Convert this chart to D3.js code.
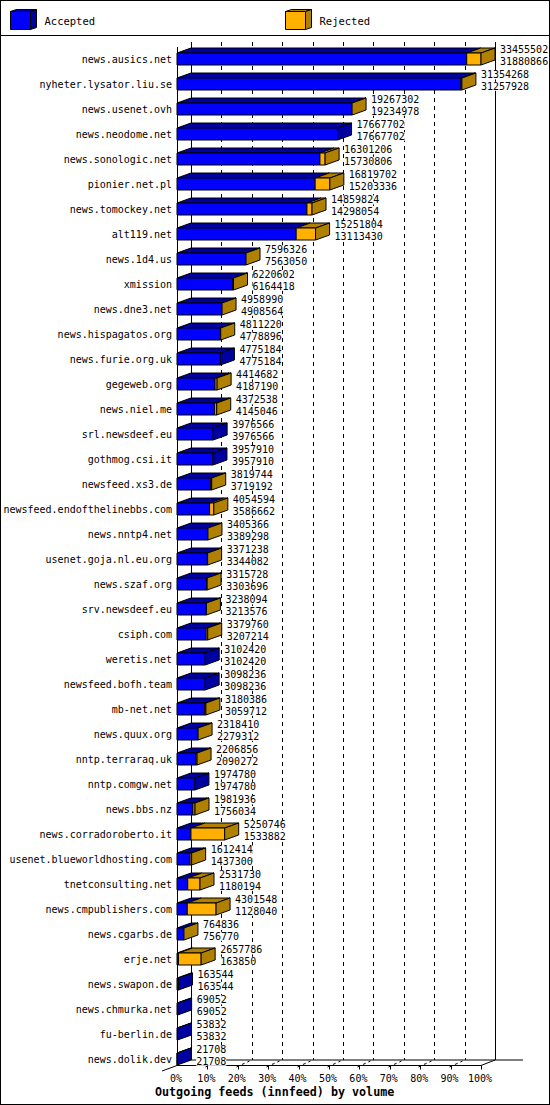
<!DOCTYPE html>
<html>
<head>
<meta charset="utf-8">
<script src="https://cdn.jsdelivr.net/npm/d3@7"></script>
<style>
  html, body { margin: 0; padding: 0; background: #fff; }
  svg { display: block; }
  text { font-family: "DejaVu Sans Mono", monospace; font-size: 10px; fill: #000; }
</style>
</head>
<body>
<svg id="root"></svg>
<script>
// data
const hosts = [
  "news.ausics.net", "nyheter.lysator.liu.se", "news.usenet.ovh", "news.neodome.net",
  "news.sonologic.net", "pionier.net.pl", "news.tomockey.net", "alt119.net",
  "news.1d4.us", "xmission", "news.dne3.net", "news.hispagatos.org",
  "news.furie.org.uk", "gegeweb.org", "news.niel.me", "srl.newsdeef.eu",
  "gothmog.csi.it", "newsfeed.xs3.de", "newsfeed.endofthelinebbs.com", "news.nntp4.net",
  "usenet.goja.nl.eu.org", "news.szaf.org", "srv.newsdeef.eu", "csiph.com",
  "weretis.net", "newsfeed.bofh.team", "mb-net.net", "news.quux.org",
  "nntp.terraraq.uk", "nntp.comgw.net", "news.bbs.nz", "news.corradoroberto.it",
  "usenet.blueworldhosting.com", "tnetconsulting.net", "news.cmpublishers.com", "news.cgarbs.de",
  "erje.net", "news.swapon.de", "news.chmurka.net", "fu-berlin.de",
  "news.dolik.dev",
];

// top number of each pair (accepted + rejected)
const totals = [
  33455502, 31354268, 19267302, 17667702, 16301206, 16819702, 14859824, 15251804,
  7596326, 6220602, 4958990, 4811220, 4775184, 4414682, 4372538, 3976566,
  3957910, 3819744, 4054594, 3405366, 3371238, 3315728, 3238094, 3379760,
  3102420, 3098236, 3180386, 2318410, 2206856, 1974780, 1981936, 5250746,
  1612414, 2531730, 4301548, 764836, 2657786, 163544, 69052, 53832,
  21708,
];

// bottom number of each pair
const accepted = [
  31880866, 31257928, 19234978, 17667702, 15730806, 15203336, 14298054, 13113430,
  7563050, 6164418, 4908564, 4778896, 4775184, 4187190, 4145046, 3976566,
  3957910, 3719192, 3586662, 3389298, 3344082, 3303696, 3213576, 3207214,
  3102420, 3098236, 3059712, 2279312, 2090272, 1974780, 1756034, 1533882,
  1437300, 1180194, 1128040, 756770, 163850, 163544, 69052, 53832,
  21708,
];

const percentTicks = [0, 10, 20, 30, 40, 50, 60, 70, 80, 90, 100];
const seriesNames = ["Accepted", "Rejected"];
const chartTitle = "Outgoing feeds (innfeed) by volume";

class FeedChart {
  width = 550;
  height = 1105;
  plot = { left: 177, right: 481, top: 47, floor: 1065.5 };
  dx = 14;
  dy = 5;
  barHalf = 6;

  colors = {
    Accepted: { front: "#0000ff", dark: "#0000a0" },
    Rejected: { front: "#ffb000", dark: "#b08000" },
  };

  svg = null;

  init() {
    this.svg = d3.select("#root")
      .attr("width", this.width)
      .attr("height", this.height);

    this.rows = hosts.map((h, i) => ({
      host: h,
      total: totals[i],
      accepted: accepted[i],
    }));

    this.x = d3.scaleLinear()
      .domain([0, d3.max(totals)])
      .range([this.plot.left, this.plot.right]);
    this.pct = d3.scaleLinear()
      .domain([0, 100])
      .range([this.plot.left, this.plot.right]);
    this.y = d3.scaleBand()
      .domain(hosts)
      .range([46.5, 46.5 + 25 * hosts.length])
      .padding(0);

    this.drawFrame();
    this.drawLegend();
    this.drawWalls();
    this.drawBars();
    this.drawLabels();
    this.drawAxis();
  }

  face = (pts, fill) => {
    this.svg.append("path")
      .attr("d", "M" + pts.map((p) => p.join(",")).join("L") + "Z")
      .attr("fill", fill)
      .attr("stroke", "#000")
      .attr("stroke-width", 1)
      .attr("stroke-linejoin", "miter");
  };

  line = (x1, y1, x2, y2, dash) => {
    const l = this.svg.append("line")
      .attr("x1", x1).attr("y1", y1)
      .attr("x2", x2).attr("y2", y2)
      .attr("stroke", "#000")
      .attr("stroke-width", 1);
    if (dash) l.attr("stroke-dasharray", dash);
    return l;
  };

  drawFrame = () => {
    this.svg.append("rect")
      .attr("x", 0.5).attr("y", 0.5)
      .attr("width", this.width - 1).attr("height", this.height - 1)
      .attr("fill", "#fff")
      .attr("stroke", "#000");
    this.line(0, 35.5, this.width, 35.5);
  };

  drawLegend = () => {
    const spots = [10.5, 285.5];
    seriesNames.forEach((name, i) => {
      const x0 = spots[i], x1 = x0 + 20, y0 = 11.5, y1 = 29.5;
      const c = this.colors[name];
      this.face([[x0, y0], [x0 + 6, y0 - 2], [x1 + 6, y0 - 2], [x1, y0]], c.dark);
      this.face([[x1, y0], [x1 + 6, y0 - 2], [x1 + 6, y1 - 2], [x1, y1]], c.dark);
      this.face([[x0, y0], [x1, y0], [x1, y1], [x0, y1]], c.front);
      this.svg.append("text")
        .attr("x", x1 + 14)
        .attr("y", 24.5)
        .style("font-size", "10.5px")
        .text(name);
    });
  };

  drawWalls = () => {
    const back = this.plot.floor - 5.5;
    const wallTop = 42;
    const { left, right, floor } = this.plot;

    // back wall edges
    this.line(left + this.dx + 0.5, wallTop, left + this.dx + 0.5, back);
    this.line(right + this.dx + 0.5, wallTop, right + this.dx + 0.5, back);

    // dashed grid up the back wall and across the floor
    percentTicks.filter((p) => p > 0 && p < 100).forEach((p) => {
      const xf = Math.round(this.pct(p)) + 0.5;
      this.line(xf + this.dx, wallTop, xf + this.dx, back, "4,4");
      this.line(xf - 2, floor + 1.5, xf + this.dx - 3, back + 1, "3,3");
    });

    // floor
    this.line(left + this.dx, back, right + this.dx + 28, back);
    this.line(left, floor, right, floor);
    this.line(right, floor, right + this.dx, back);
    this.line(left - 15, floor + 5.5, left, floor);
    this.line(left + 0.5, this.plot.top, left + 0.5, floor);
  };

  drawBars = () => {
    const { dx, dy, barHalf } = this;
    this.rows.forEach((d) => {
      const c = this.y(d.host) + this.y.bandwidth() / 2;
      const y0 = c - barHalf, y1 = c + barHalf;
      const segs = [
        { name: "Accepted", v0: 0, v1: d.accepted },
        { name: "Rejected", v0: d.accepted, v1: d.total },
      ].filter((s) => s.v1 > s.v0);

      segs.forEach((s) => {
        const a = this.x(s.v0), b = this.x(s.v1);
        const col = this.colors[s.name];
        this.face([[a, y0], [a + dx, y0 - dy], [b + dx, y0 - dy], [b, y0]], col.dark);
        this.face([[a, y0], [b, y0], [b, y1], [a, y1]], col.front);
      });

      const last = segs[segs.length - 1];
      const e = this.x(last.v1);
      this.face(
        [[e, y0], [e + dx, y0 - dy], [e + dx, y1 - dy], [e, y1]],
        this.colors[last.name].dark
      );
    });
  };

  drawLabels = () => {
    this.rows.forEach((d) => {
      const c = this.y(d.host) + this.y.bandwidth() / 2;
      const tx = this.x(d.total) + this.dx + 5;

      [[d.total, c - 5.6], [d.accepted, c + 5.8]].forEach(([v, yb]) => {
        const g = this.svg.append("g");
        const bg = g.append("rect").attr("fill", "#fff");
        const t = g.append("text").attr("x", tx).attr("y", yb).text(v);
        const bb = t.node().getBBox();
        bg.attr("x", bb.x).attr("y", yb - 8).attr("width", bb.width).attr("height", 9);
      });

      this.svg.append("text")
        .attr("x", 172)
        .attr("y", c + 3.6)
        .attr("text-anchor", "end")
        .text(d.host);
    });
  };

  drawAxis = () => {
    const { floor } = this.plot;
    percentTicks.forEach((p) => {
      const xf = Math.round(this.pct(p)) + 0.5;
      if (p > 0) this.line(xf, floor, xf, floor + 4);
      this.svg.append("text")
        .attr("x", this.pct(p) - 1)
        .attr("y", 1081.6)
        .attr("text-anchor", "middle")
        .text(p + "%");
    });

    this.svg.append("text")
      .attr("x", 155)
      .attr("y", 1096)
      .style("font-size", "11.7px")
      .style("font-weight", "bold")
      .text(chartTitle);
  };
}

function main() {
  const chart = new FeedChart();
  chart.init();
}

main();
</script>
</body>
</html>
